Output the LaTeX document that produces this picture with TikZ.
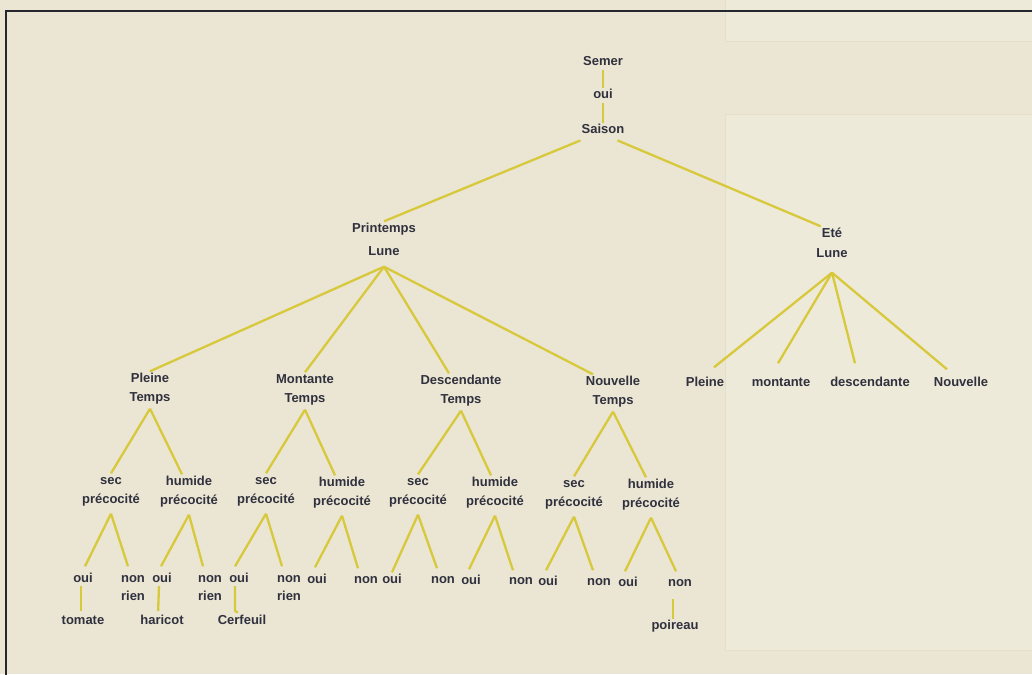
\documentclass[tikz,border=0pt]{standalone}
\usepackage{fontspec}
\setmainfont{Liberation Sans}
\usetikzlibrary{positioning}

\definecolor{paper}{RGB}{234,230,211}
\definecolor{paperlight}{RGB}{238,234,218}
\definecolor{paperline}{RGB}{228,223,205}
\definecolor{ink}{RGB}{48,48,62}
\definecolor{twig}{RGB}{216,201,60}
\definecolor{framecol}{RGB}{38,38,46}

\begin{document}
\begin{tikzpicture}[
    x=1pt, y=-1pt,
    node distance=5pt,
    word/.style={inner sep=1pt, text=ink, font=\fontsize{13}{15}\selectfont\bfseries, text height=9.5pt, text depth=2.8pt},
    link/.style={draw=twig, line width=2.3pt},
    panel/.style={fill=paperlight, draw=paperline, line width=1pt},
]
    \useasboundingbox (0,0) rectangle (1032,674);
    \fill[paper] (0,0) rectangle (1032,674);
    \draw[panel] (725,-2) rectangle (1040,42);
    \draw[panel] (725,115) rectangle (1040,650);
    \draw[framecol, line width=2pt] (6,680) -- (6,11) -- (1040,11);

    % racine
    \node[word, anchor=base] (semer) at (603,66) {Semer};
    \node[word, below=18pt of semer] (oui) {oui};
    \node[word, below=20pt of oui] (saison) {Saison};

    \node[word, anchor=base] (print) at (384,232) {Printemps};
    \node[word, below=9pt of print] (lunel) {Lune};
    \node[word, anchor=base] (ete) at (832,237) {Eté};
    \node[word, below=6pt of ete] (luner) {Lune};

    % lune, printemps
    \node[word, anchor=base] (pl) at (150,382) {Pleine};
    \node[word, below=of pl] (tpl) {Temps};
    \node[word, anchor=base] (mo) at (305,383) {Montante};
    \node[word, below=of mo] (tmo) {Temps};
    \node[word, anchor=base] (de) at (461,384) {Descendante};
    \node[word, below=of de] (tde) {Temps};
    \node[word, anchor=base] (no) at (613,385) {Nouvelle};
    \node[word, below=of no] (tno) {Temps};

    % lune, ete
    \node[word, anchor=base] (rpl) at (705,386) {Pleine};
    \node[word, anchor=base] (rmo) at (781,386) {montante};
    \node[word, anchor=base] (rde) at (870,386) {descendante};
    \node[word, anchor=base] (rno) at (961,386) {Nouvelle};

    % temps
    \node[word, anchor=base] (s1) at (111,484) {sec};
    \node[word, below=of s1] (ps1) {précocité};
    \node[word, anchor=base] (h1) at (189,485) {humide};
    \node[word, below=of h1] (ph1) {précocité};
    \node[word, anchor=base] (s2) at (266,484) {sec};
    \node[word, below=of s2] (ps2) {précocité};
    \node[word, anchor=base] (h2) at (342,486) {humide};
    \node[word, below=of h2] (ph2) {précocité};
    \node[word, anchor=base] (s3) at (418,485) {sec};
    \node[word, below=of s3] (ps3) {précocité};
    \node[word, anchor=base] (h3) at (495,486) {humide};
    \node[word, below=of h3] (ph3) {précocité};
    \node[word, anchor=base] (s4) at (574,487) {sec};
    \node[word, below=of s4] (ps4) {précocité};
    \node[word, anchor=base] (h4) at (651,488) {humide};
    \node[word, below=of h4] (ph4) {précocité};

    % precocite
    \node[word, anchor=base] (o1) at (83,582) {oui};
    \node[word, anchor=base] (n1) at (133,582) {non};
    \node[word, below=4pt of n1] (r1) {rien};
    \node[word, anchor=base] (o2) at (162,582) {oui};
    \node[word, anchor=base] (n2) at (210,582) {non};
    \node[word, below=4pt of n2] (r2) {rien};
    \node[word, anchor=base] (o3) at (239,582) {oui};
    \node[word, anchor=base] (n3) at (289,582) {non};
    \node[word, below=4pt of n3] (r3) {rien};
    \node[word, anchor=base] (o4) at (317,583) {oui};
    \node[word, anchor=base] (n4) at (366,583) {non};
    \node[word, anchor=base] (o5) at (392,583) {oui};
    \node[word, anchor=base] (n5) at (443,583) {non};
    \node[word, anchor=base] (o6) at (471,584) {oui};
    \node[word, anchor=base] (n6) at (521,584) {non};
    \node[word, anchor=base] (o7) at (548,585) {oui};
    \node[word, anchor=base] (n7) at (599,585) {non};
    \node[word, anchor=base] (o8) at (628,586) {oui};
    \node[word, anchor=base] (n8) at (680,586) {non};

    \node[word, below=28pt of o1] (tomate) {tomate};
    \node[word, below=28pt of o2] (haricot) {haricot};
    \node[word, below=28pt of o3, xshift=3pt] (cerf) {Cerfeuil};
    \node[word, below=29pt of n8, xshift=-5pt] (poireau) {poireau};

    \coordinate (lunelTip) at ([yshift=-7pt]lunel.south);
    \coordinate (lunerTip) at ([yshift=-11pt]luner.south);

    \draw[link] (semer) -- (oui);
    \draw[link] (oui) -- (saison);
    \draw[link] ([yshift=-3pt]saison.south west) -- (print.north);
    \draw[link] ([xshift=-8pt,yshift=-3pt]saison.south east) -- (ete.north west);

    \draw[link] (lunelTip) -- (pl.north);
    \draw[link] (lunelTip) -- (mo.north);
    \draw[link] (lunelTip) -- ([xshift=-12pt]de.north);
    \draw[link] (lunelTip) -- ([xshift=-20pt]no.north);

    \draw[link] (lunerTip) -- ([xshift=9pt,yshift=8pt]rpl.north);
    \draw[link] (lunerTip) -- ([xshift=-3pt,yshift=12pt]rmo.north);
    \draw[link] (lunerTip) -- ([xshift=-15pt,yshift=12pt]rde.north);
    \draw[link] (lunerTip) -- ([xshift=-14pt,yshift=6pt]rno.north);

    \draw[link] ([yshift=-3pt]tpl.south) -- (s1.north);
    \draw[link] ([yshift=-3pt]tpl.south) -- ([xshift=-7pt]h1.north);
    \draw[link] ([yshift=-3pt]tmo.south) -- (s2.north);
    \draw[link] ([yshift=-3pt]tmo.south) -- ([xshift=-7pt]h2.north);
    \draw[link] ([yshift=-3pt]tde.south) -- (s3.north);
    \draw[link] ([yshift=-3pt]tde.south) -- ([xshift=-4pt]h3.north);
    \draw[link] ([yshift=-3pt]tno.south) -- (s4.north);
    \draw[link] ([yshift=-3pt]tno.south) -- ([xshift=-5pt]h4.north);

    \draw[link] ([yshift=-6pt]ps1.south) -- ([xshift=2pt,yshift=5pt]o1.north);
    \draw[link] ([yshift=-6pt]ps1.south) -- ([xshift=-5pt,yshift=5pt]n1.north);
    \draw[link] ([yshift=-6pt]ph1.south) -- ([xshift=-1pt,yshift=5pt]o2.north);
    \draw[link] ([yshift=-6pt]ph1.south) -- ([xshift=-7pt,yshift=5pt]n2.north);
    \draw[link] ([yshift=-6pt]ps2.south) -- ([xshift=-4pt,yshift=5pt]o3.north);
    \draw[link] ([yshift=-6pt]ps2.south) -- ([xshift=-7pt,yshift=5pt]n3.north);
    \draw[link] ([yshift=-6pt]ph2.south) -- ([xshift=-2pt,yshift=5pt]o4.north);
    \draw[link] ([yshift=-6pt]ph2.south) -- ([xshift=-8pt,yshift=4pt]n4.north);
    \draw[link] ([yshift=-6pt]ps3.south) -- (o5.north);
    \draw[link] ([yshift=-6pt]ps3.south) -- ([xshift=-6pt,yshift=4pt]n5.north);
    \draw[link] ([yshift=-6pt]ph3.south) -- ([xshift=-2pt,yshift=4pt]o6.north);
    \draw[link] ([yshift=-6pt]ph3.south) -- ([xshift=-8pt,yshift=3pt]n6.north);
    \draw[link] ([yshift=-6pt]ps4.south) -- ([xshift=-2pt,yshift=4pt]o7.north);
    \draw[link] ([yshift=-6pt]ps4.south) -- ([xshift=-6pt,yshift=4pt]n7.north);
    \draw[link] ([yshift=-6pt]ph4.south) -- ([xshift=-3pt,yshift=4pt]o8.north);
    \draw[link] ([yshift=-6pt]ph4.south) -- ([xshift=-4pt,yshift=4pt]n8.north);

    \draw[link, shorten >=3pt] ([xshift=-2pt]o1.south) -- ([xshift=-2pt]tomate.north);
    \draw[link, shorten >=3pt] ([xshift=-3pt]o2.south) -- ([xshift=-4pt]haricot.north);
    \draw[link, rounded corners=2pt] ([xshift=-4pt]o3.south) |- ([xshift=-4pt,yshift=2pt]cerf.north);
    \draw[link] ([xshift=-7pt,yshift=-9pt]n8.south) -- ([xshift=-2pt]poireau.north);

\end{tikzpicture}
\end{document}
